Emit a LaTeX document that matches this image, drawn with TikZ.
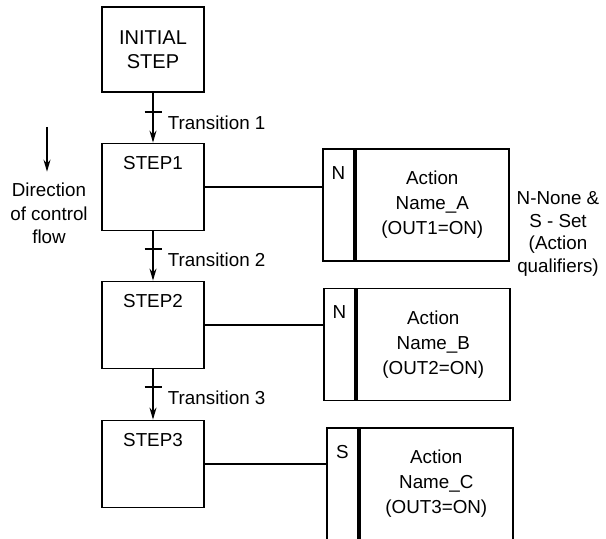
\documentclass[tikz,border=0pt]{standalone}
\usepackage{fontspec}
\setmainfont{Liberation Sans}
\usetikzlibrary{arrows.meta,positioning}
\tikzset{stepbox/.style={draw,line width=0.9pt,minimum width=51pt,minimum height=43.5pt,inner sep=0pt},
  qualbox/.style={draw,line width=0.9pt,minimum width=15.5pt,minimum height=56pt,inner sep=0pt},
  actbox/.style={draw,line width=0.9pt,minimum width=76.5pt,minimum height=56pt,align=center,inner sep=0pt,
    font=\fontsize{9.4}{12.5}\selectfont},
  arr/.style={-{Stealth[length=6pt,width=3.5pt]},line width=0.8pt}}

\begin{document}
\begin{tikzpicture}[x=0.5pt,y=-0.5pt,font=\fontsize{9.4}{11.5}\selectfont,
 lbl/.style={anchor=north,inner sep=0pt},
 trans/.style={anchor=west,inner sep=0pt,xshift=7.25pt,yshift=-5.5pt},
 tick/.style={line width=0.9pt},
 link/.style={line width=0.8pt}]
\useasboundingbox (0,0) rectangle (606,539);
\clip (0,0) rectangle (606,539);
% steps
\node[stepbox,minimum height=42.5pt,align=center,font=\fontsize{10}{12}\selectfont] (init) at (153,49.5) {INITIAL\\STEP};
\node[stepbox] (s1) at (153,187) {};
\node[stepbox] (s2) at (153,325) {};
\node[stepbox] (s3) at (153,464) {};
\node[lbl] (s1t) at ([yshift=-6.5pt]s1.north) {STEP1};
\node[lbl] (s2t) at ([yshift=-6.5pt]s2.north) {STEP2};
\node[lbl] (s3t) at ([yshift=-6.5pt]s3.north) {STEP3};
% transitions
\draw[arr] (init.south) -- coordinate[pos=0.39] (t1) (s1.north);
\draw[arr] (s1.south) -- coordinate[pos=0.363] (t2) (s2.north);
\draw[arr] (s2.south) -- coordinate[pos=0.35] (t3) (s3.north);
\draw[tick] ([xshift=-4.25pt]t1) -- ([xshift=4.25pt]t1);
\draw[tick] ([xshift=-4.25pt]t2) -- ([xshift=4.25pt]t2);
\draw[tick] ([xshift=-4.25pt]t3) -- ([xshift=4.25pt]t3);
\node[trans] (tr1) at (t1) {Transition 1};
\node[trans] (tr2) at (t2) {Transition 2};
\node[trans] (tr3) at (t3) {Transition 3};
% actions
\node[qualbox] (q1) at (338.5,205) {};
\node[qualbox] (q2) at (339.5,344.5) {};
\node[qualbox] (q3) at (342.5,484) {};
\node[actbox,right=0pt of q1] (a1) {Action\\Name\_A\\(OUT1=ON)};
\node[actbox,right=0pt of q2] (a2) {Action\\Name\_B\\(OUT2=ON)};
\node[actbox,right=0pt of q3] (a3) {Action\\Name\_C\\(OUT3=ON)};
\node[lbl] (q1t) at ([yshift=-9pt]q1.north) {N};
\node[lbl] (q2t) at ([yshift=-9pt]q2.north) {N};
\node[lbl] (q3t) at ([yshift=-9pt]q3.north) {S};
\draw[link] (s1.east) -- (s1.east -| q1.west);
\draw[link] (s2.east) -- (s2.east -| q2.west);
\draw[link] (s3.east) -- (s3.east -| q3.west);
% notes
\coordinate (dtop) at (47,127);
\node[align=center,inner sep=0pt,font=\fontsize{9.4}{11.75}\selectfont] (dir) at (49,213.5) {Direction\\of control\\flow};
\draw[arr,shorten >=5.5pt] (dtop) -- (dtop |- dir.north);
\node[align=center,inner sep=0pt,font=\fontsize{9.4}{11.25}\selectfont] (qnote) at (558,234) {N-None \&\\S - Set\\(Action\\qualifiers)};
\end{tikzpicture}
\end{document}
